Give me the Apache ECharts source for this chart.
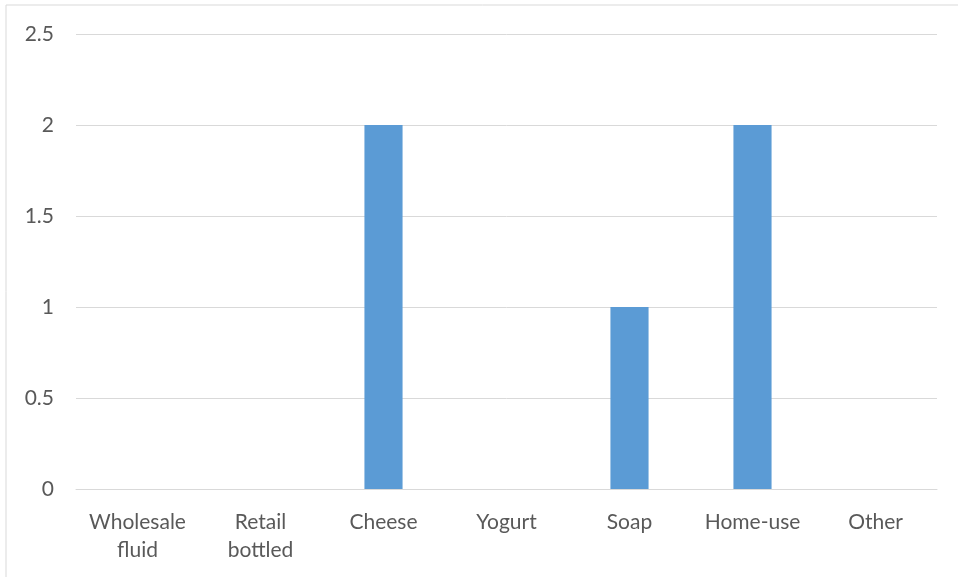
<!DOCTYPE html>
<html><head><meta charset="utf-8">
<script src="https://cdn.jsdelivr.net/npm/echarts@6/dist/echarts.min.js"></script>
<style>html,body{margin:0;padding:0;background:#fff}#c{width:958px;height:577px}</style>
</head><body><div id="c"></div>
<script>
const categories = ['Wholesale\nfluid', 'Retail\nbottled', 'Cheese', 'Yogurt', 'Soap', 'Home-use', 'Other'];
const values = [0, 0, 2, 0, 1, 2, 0];
const yTicks = [0, 0.5, 1, 1.5, 2, 2.5];

const chart = echarts.init(document.getElementById('c'), null, {renderer: 'canvas'});
const font = 'Lato, "Open Sans", sans-serif';
chart.setOption({
  animation: false,
  backgroundColor: '#fff',
  graphic: [{
    type: 'rect', shape: {x: 6, y: 5, width: 960, height: 580},
    style: {fill: 'none', stroke: '#D9D9D9', lineWidth: 1}, silent: true
  }],
  grid: {left: 76, right: 21, top: 34, bottom: 88},
  xAxis: {
    type: 'category', data: categories,
    axisLine: {show: true, lineStyle: {color: '#D9D9D9', width: 1}},
    axisTick: {show: false},
    axisLabel: {color: '#595959', fontSize: 21, fontFamily: font, margin: 19, lineHeight: 28, interval: 0}
  },
  yAxis: {
    type: 'value', min: yTicks[0], max: yTicks[yTicks.length - 1], interval: 0.5,
    axisLine: {show: false}, axisTick: {show: false},
    splitLine: {lineStyle: {color: '#D9D9D9', width: 1}},
    axisLabel: {color: '#595959', fontSize: 21, fontFamily: font, margin: 22,
      formatter: v => String(v)}
  },
  series: [{
    type: 'bar', data: values, barWidth: '31%',
    itemStyle: {color: '#5B9BD5'}
  }]
});
</script></body></html>
